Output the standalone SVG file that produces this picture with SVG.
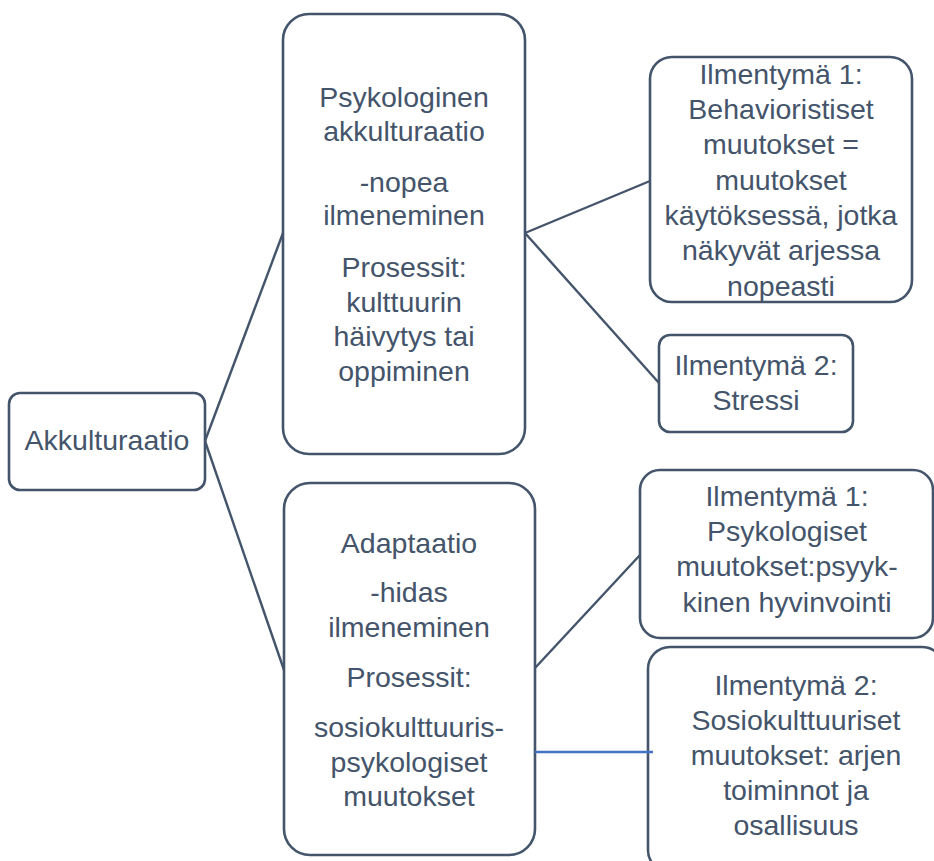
<svg xmlns="http://www.w3.org/2000/svg" width="934" height="861" viewBox="0 0 934 861">
<style>
.box{fill:#fff;stroke:#44546A;stroke-width:2.6}
.ln{stroke:#44546A;stroke-width:2.4;fill:none}
.blue{stroke:#4472C4;stroke-width:2.4;fill:none}
text{font-family:"Liberation Sans",Arial,sans-serif;font-size:28.5px;fill:#44546A;text-anchor:middle}
</style>
<rect width="934" height="861" fill="#fff"/>
<g id="akkulturaatio">
<rect class="box" x="9" y="393" width="196" height="97" rx="11"/>
<text x="107" y="450">Akkulturaatio</text>
</g>
<g id="psykologinen">
<rect class="box" x="283" y="14" width="242" height="440" rx="26"/>
<text x="404" y="107">Psykologinen</text>
<text x="404" y="141">akkulturaatio</text>
<text x="404" y="192">-nopea</text>
<text x="404" y="225">ilmeneminen</text>
<text x="404" y="277">Prosessit:</text>
<text x="404" y="312">kulttuurin</text>
<text x="404" y="346">häivytys tai</text>
<text x="404" y="381">oppiminen</text>
</g>
<g id="adaptaatio">
<rect class="box" x="284" y="483" width="251" height="372" rx="26"/>
<text x="409" y="553">Adaptaatio</text>
<text x="409" y="602">-hidas</text>
<text x="409" y="637">ilmeneminen</text>
<text x="409" y="687">Prosessit:</text>
<text x="409" y="737">sosiokulttuuris-</text>
<text x="409" y="772">psykologiset</text>
<text x="409" y="806">muutokset</text>
</g>
<g id="ilm1-behavior">
<rect class="box" x="650" y="57" width="262" height="245" rx="22"/>
<text x="781" y="84">Ilmentymä 1:</text>
<text x="781" y="119">Behavioristiset</text>
<text x="781" y="154">muutokset =</text>
<text x="781" y="190">muutokset</text>
<text x="781" y="225">käytöksessä, jotka</text>
<text x="781" y="260">näkyvät arjessa</text>
<text x="781" y="296">nopeasti</text>
</g>
<g id="ilm2-stressi">
<rect class="box" x="659" y="335" width="194" height="97" rx="11"/>
<text x="756" y="375">Ilmentymä 2:</text>
<text x="756" y="410">Stressi</text>
</g>
<g id="ilm1-psyk">
<rect class="box" x="640" y="470" width="293" height="168" rx="20"/>
<text x="787" y="506">Ilmentymä 1:</text>
<text x="787" y="541">Psykologiset</text>
<text x="787" y="576">muutokset:psyyk-</text>
<text x="787" y="612">kinen hyvinvointi</text>
</g>
<g id="ilm2-sosio">
<rect class="box" x="648" y="647" width="296" height="225" rx="22"/>
<text x="796" y="695">Ilmentymä 2:</text>
<text x="796" y="730">Sosiokulttuuriset</text>
<text x="796" y="765">muutokset: arjen</text>
<text x="796" y="800">toiminnot ja</text>
<text x="796" y="835">osallisuus</text>
</g>
<g id="connectors">
<line class="ln" x1="205" y1="441" x2="283" y2="233"/>
<line class="ln" x1="205" y1="441" x2="284" y2="670"/>
<line class="ln" x1="525" y1="233" x2="650" y2="181"/>
<line class="ln" x1="525" y1="233" x2="659" y2="383"/>
<line class="ln" x1="535" y1="668" x2="640" y2="555"/>
<line class="blue" x1="535" y1="752" x2="653" y2="752"/>
</g>
</svg>
